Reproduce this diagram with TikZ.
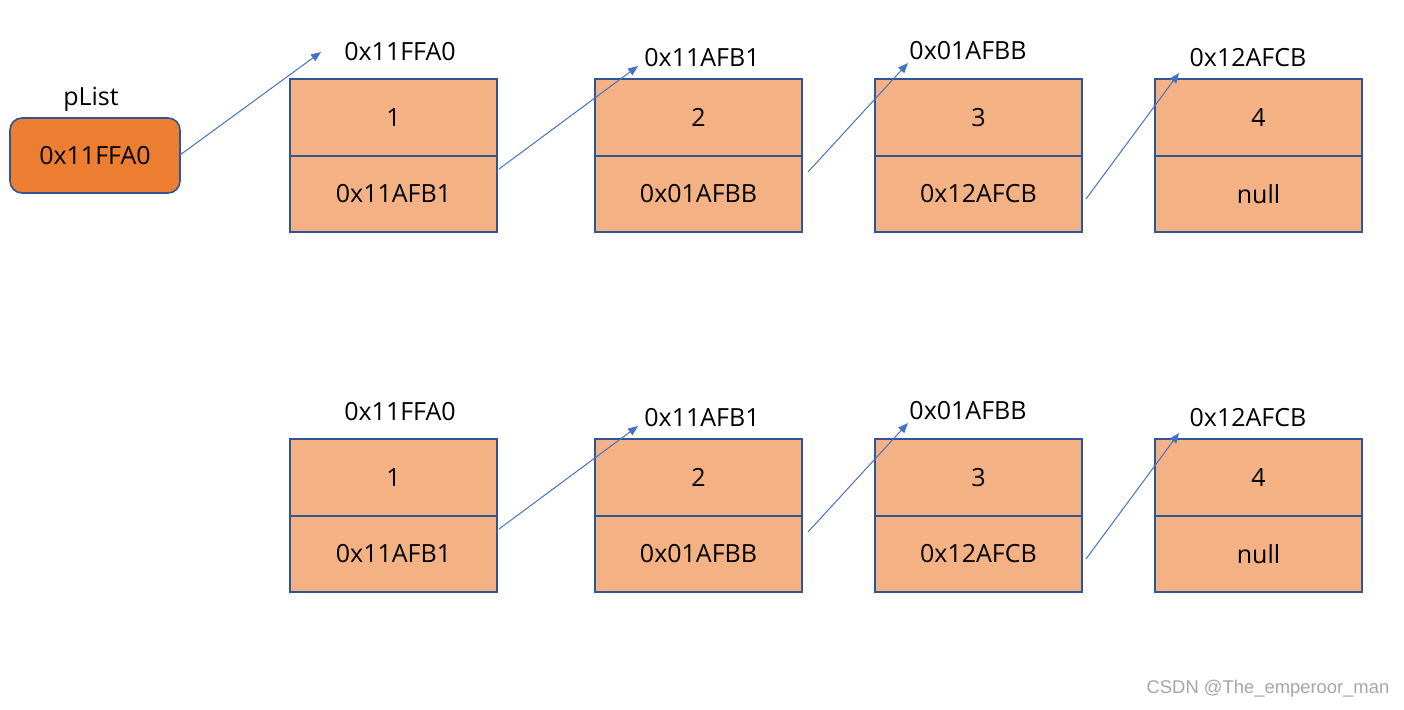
\documentclass[tikz,border=0pt]{standalone}
\usepackage{fontspec}
\setmainfont{Open Sans}
\newfontfamily\wmfont{Liberation Sans}
\usetikzlibrary{arrows.meta}
\definecolor{cellfill}{HTML}{F4B183}
\definecolor{headfill}{HTML}{ED7D31}
\definecolor{cellborder}{HTML}{2F5597}
\definecolor{arrowblue}{HTML}{4472C4}
\definecolor{wmgray}{HTML}{A6A6A6}
\begin{document}
\begin{tikzpicture}[x=0.5pt,y=-0.5pt,
  cell/.style={draw=cellborder, fill=cellfill, line width=0.8pt, minimum width=103.5pt, minimum height=38.25pt, inner sep=0pt, font=\fontsize{12.5}{15}\selectfont},
  head/.style={draw=cellborder, fill=headfill, line width=0.8pt, rounded corners=6pt, minimum width=85pt, minimum height=37.5pt, inner sep=0pt, font=\fontsize{12.5}{15}\selectfont},
  addr/.style={anchor=base, inner sep=0pt, font=\fontsize{12.5}{15}\selectfont},
  link/.style={draw=arrowblue, line width=0.5pt, -{Triangle[length=5pt,width=4pt]}},
  wm/.style={inner sep=0pt, text=wmgray, font=\wmfont\fontsize{9.2}{11}\selectfont}]
\useasboundingbox (0,0) rectangle (1404,709);

% head pointer
\node[addr] (plistlab) at (91,105) {pList};
\node[head] (plist) at (95,155.5) {0x11FFA0};

% top row
\node[cell] (a1) at (393.5,117.5) {1};
\node[cell] (a1n) at (393.5,194) {0x11AFB1};
\node[cell] (a2) at (698.5,117.5) {2};
\node[cell] (a2n) at (698.5,194) {0x01AFBB};
\node[cell] (a3) at (978.5,117.5) {3};
\node[cell] (a3n) at (978.5,194) {0x12AFCB};
\node[cell] (a4) at (1258.5,117.5) {4};
\node[cell] (a4n) at (1258.5,194) {null};
\node[addr] (la1) at (400,60) {0x11FFA0};
\node[addr] (la2) at (702,66) {0x11AFB1};
\node[addr] (la3) at (968,59) {0x01AFBB};
\node[addr] (la4) at (1248,66) {0x12AFCB};

% bottom row
\node[cell] (b1) at (393.5,477.5) {1};
\node[cell] (b1n) at (393.5,554) {0x11AFB1};
\node[cell] (b2) at (698.5,477.5) {2};
\node[cell] (b2n) at (698.5,554) {0x01AFBB};
\node[cell] (b3) at (978.5,477.5) {3};
\node[cell] (b3n) at (978.5,554) {0x12AFCB};
\node[cell] (b4) at (1258.5,477.5) {4};
\node[cell] (b4n) at (1258.5,554) {null};
\node[addr] (lb1) at (400,420) {0x11FFA0};
\node[addr] (lb2) at (702,426) {0x11AFB1};
\node[addr] (lb3) at (968,419) {0x01AFBB};
\node[addr] (lb4) at (1248,426) {0x12AFCB};

% arrow end points
\coordinate (p0) at (180,155);
\coordinate (t1) at (321,52);
\coordinate (sa1) at (499,169);
\coordinate (ta2) at (638,66);
\coordinate (sa2) at (808,172);
\coordinate (ta3) at (908,63);
\coordinate (sa3) at (1086,199);
\coordinate (ta4) at (1179,73);
\coordinate (sb1) at (499,529);
\coordinate (tb2) at (638,426);
\coordinate (sb2) at (808,532);
\coordinate (tb3) at (908,423);
\coordinate (sb3) at (1086,559);
\coordinate (tb4) at (1179,433);

\draw[link] (p0) -- (t1);
\draw[link] (sa1) -- (ta2);
\draw[link] (sa2) -- (ta3);
\draw[link] (sa3) -- (ta4);
\draw[link] (sb1) -- (tb2);
\draw[link] (sb2) -- (tb3);
\draw[link] (sb3) -- (tb4);

\node[wm] (wmark) at (1268,689) {CSDN @The\_emperoor\_man};
\end{tikzpicture}
\end{document}
